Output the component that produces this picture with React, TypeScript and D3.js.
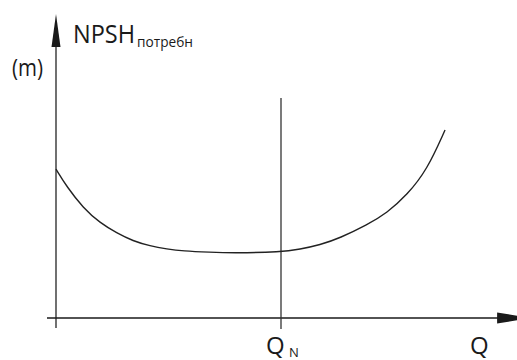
import * as d3 from "d3";
import React, { useEffect, useRef } from "react";

// DATA (Q in % of nominal flow, NPSH in arbitrary metres)
const flowPct = [0, 4.75, 12.1, 19.6, 27, 34.2, 41.8, 49.3, 56.4, 68.4, 78.7, 100, 108.4, 117.3, 126.2, 138.2, 147.1, 156, 164.9, 172.9];
const npshReq = [7.44, 6.57, 5.5, 4.75, 4.25, 3.85, 3.6, 3.45, 3.35, 3.29, 3.25, 3.3, 3.44, 3.65, 4.0, 4.65, 5.25, 6.15, 7.4, 9.4];
const qNominal = 100;
const xAxisRange = [-4, 211.6];
const yAxisRange = [-0.5, 15.2];
const qnLineRange = [-0.55, 11.0];

const width = 517;
const height = 360;
const font = "'Open Sans', 'DejaVu Sans', sans-serif";

export default function App() {
  const svgRef = useRef(null);

  useEffect(() => {
    const svgEl = d3.select(svgRef.current);
    svgEl.selectAll("*").remove();

    // X scale
    const x_scale = d3.scaleLinear().domain([0, qNominal]).range([56, 281]);
    // Y scale
    const y_scale = d3.scaleLinear().domain([0, 10]).range([318, 118]);

    const x0 = x_scale(0);
    const y0 = y_scale(0);

    /* Y AXIS */
    const yTip = y_scale(yAxisRange[1]);
    svgEl
      .append("line")
      .attr("x1", x0)
      .attr("x2", x0)
      .attr("y1", y_scale(yAxisRange[0]))
      .attr("y2", yTip + 20)
      .attr("stroke", "#4d4d4d")
      .attr("stroke-width", 1.6);
    svgEl
      .append("path")
      .attr("d", `M${x0},${yTip} L${x0 + 4.5},${yTip + 33} L${x0 - 4.5},${yTip + 33} Z`)
      .attr("fill", "#1a1a1a");

    /* X AXIS */
    const xTip = x_scale(xAxisRange[1]);
    svgEl
      .append("line")
      .attr("x1", x_scale(xAxisRange[0]))
      .attr("x2", xTip - 25)
      .attr("y1", y0)
      .attr("y2", y0)
      .attr("stroke", "#1a1a1a")
      .attr("stroke-width", 1.3);
    svgEl
      .append("path")
      .attr("d", `M${xTip},${y0} L${xTip - 35},${y0 - 5.5} L${xTip - 35},${y0 + 5.5} Z`)
      .attr("fill", "#1a1a1a");

    // nominal flow line
    svgEl
      .append("line")
      .attr("x1", x_scale(qNominal))
      .attr("x2", x_scale(qNominal))
      .attr("y1", y_scale(qnLineRange[0]))
      .attr("y2", y_scale(qnLineRange[1]))
      .attr("stroke", "#333")
      .attr("stroke-width", 1.3);

    // NPSH required curve
    const pts = flowPct.map((q, i) => [q, npshReq[i]]);
    svgEl
      .append("path")
      .datum(pts)
      .attr("fill", "none")
      .attr("stroke", "#222")
      .attr("stroke-width", 1.4)
      .attr(
        "d",
        d3
          .line()
          .x((d) => x_scale(d[0]))
          .y((d) => y_scale(d[1]))
          .curve(d3.curveBasis)
      );

    // labels
    svgEl
      .append("text")
      .attr("x", 73)
      .attr("y", 43)
      .attr("font-size", 25)
      .attr("textLength", 62)
      .attr("lengthAdjust", "spacingAndGlyphs")
      .attr("fill", "#1a1a1a")
      .text("NPSH");
    svgEl
      .append("text")
      .attr("x", 137)
      .attr("y", 47)
      .attr("font-size", 14)
      .attr("textLength", 56)
      .attr("lengthAdjust", "spacingAndGlyphs")
      .attr("fill", "#1a1a1a")
      .text("потребн");
    svgEl
      .append("text")
      .attr("x", 12)
      .attr("y", 76)
      .attr("font-size", 23)
      .attr("textLength", 31)
      .attr("lengthAdjust", "spacingAndGlyphs")
      .attr("fill", "#1a1a1a")
      .text("(m)");

    svgEl
      .append("text")
      .attr("x", x_scale(qNominal) - 15)
      .attr("y", 354)
      .attr("font-size", 24)
      .attr("fill", "#1a1a1a")
      .text("Q");
    svgEl
      .append("text")
      .attr("x", x_scale(qNominal) + 8)
      .attr("y", 357)
      .attr("font-size", 13)
      .attr("fill", "#1a1a1a")
      .text("N");
    svgEl
      .append("text")
      .attr("x", 470)
      .attr("y", 354)
      .attr("font-size", 24)
      .attr("fill", "#1a1a1a")
      .text("Q");
  });

  return (
    <svg
      ref={svgRef}
      width={width}
      height={height}
      style={{ position: "absolute", left: 0, top: 0, fontFamily: font, background: "#fff" }}
    ></svg>
  );
}
